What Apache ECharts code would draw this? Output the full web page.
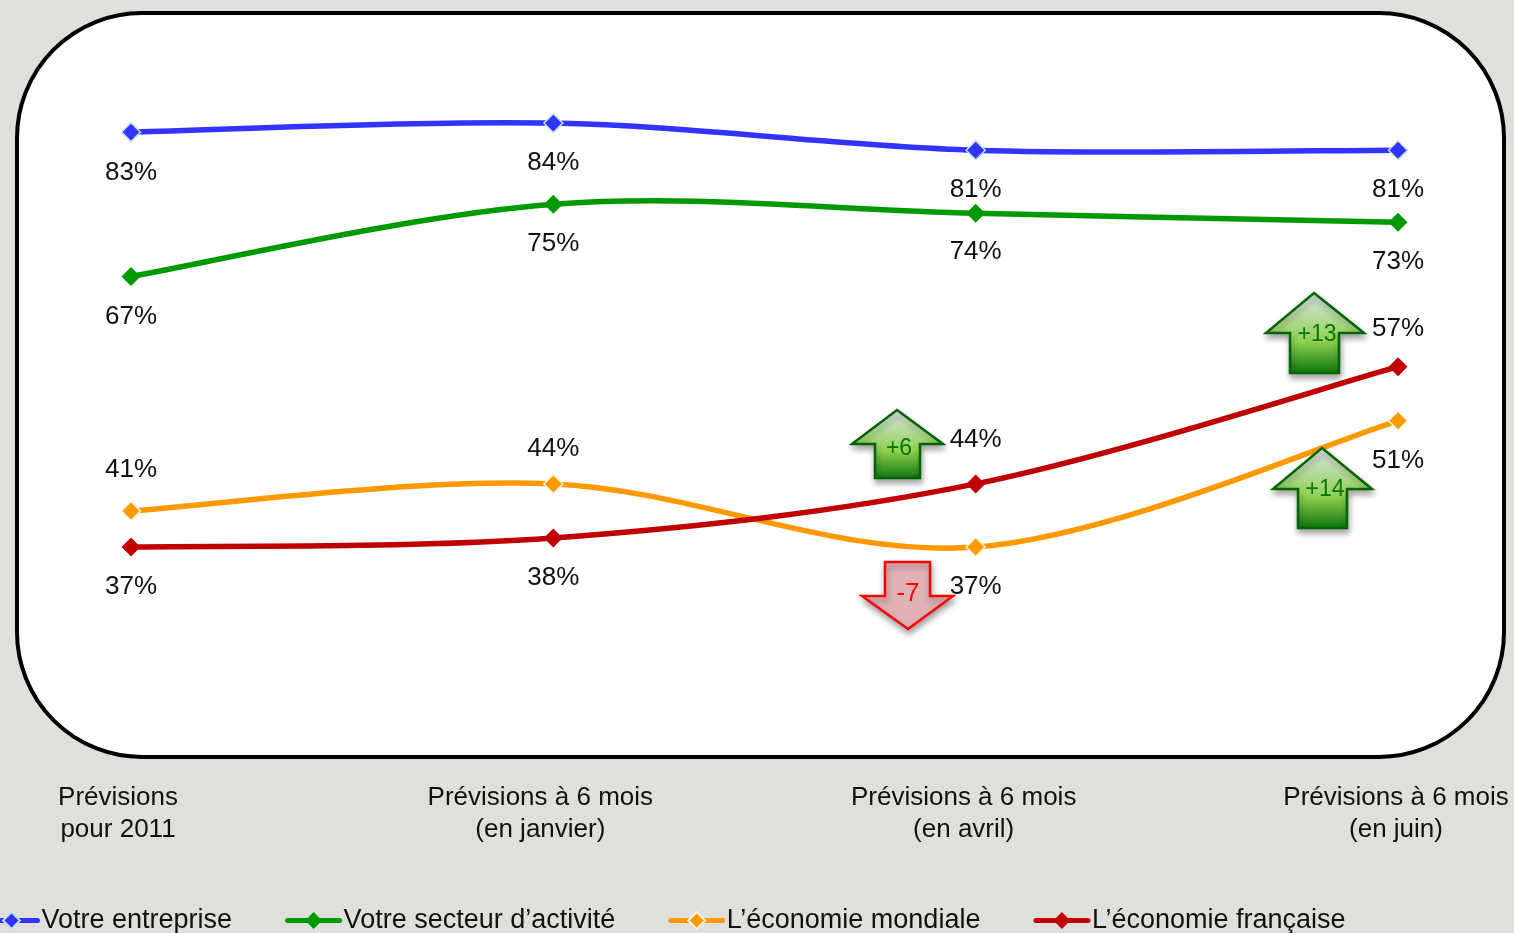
<!DOCTYPE html>
<html><head><meta charset="utf-8">
<style>html,body{margin:0;padding:0;background:#DFE0DB;overflow:hidden}#c{width:1514px;height:933px}</style>
<script src="https://cdn.jsdelivr.net/npm/echarts@6/dist/echarts.min.js"></script>
</head><body><div id="c"></div>
<script>
const categories = ['Prévisions\npour 2011','Prévisions à 6 mois\n(en janvier)','Prévisions à 6 mois\n(en avril)','Prévisions à 6 mois\n(en juin)'];
const entreprise = [83,84,81,81];
const secteur = [67,75,74,73];
const mondiale = [41,44,37,51];
const francaise = [37,38,44,57];
const names = ['Votre entreprise','Votre secteur d’activité','L’économie mondiale','L’économie française'];

const FONT = '"Liberation Sans", Arial, sans-serif';
const labelShift = [26,26,24,4];
const rich = {};
labelShift.forEach((p,i)=>{ rich['c'+i] = {fontFamily:FONT,fontSize:26,color:'#111',lineHeight:32,padding:[0,p,0,0]}; });

// Curve through the values, spreadsheet-style smoothing (may overshoot between points)
function curve(data,color){
  return {
    type:'custom',name:'curve',coordinateSystem:'cartesian2d',data:[0],silent:true,z:2,
    renderItem:(params,api)=>{
      const p = data.map((v,i)=>api.coord([i,v]));
      let d = `M${p[0][0]} ${p[0][1]}`;
      for(let i=0;i<p.length-1;i++){
        const a = p[Math.max(i-1,0)], b = p[i], c = p[i+1], e = p[Math.min(i+2,p.length-1)];
        d += `C${b[0]+(c[0]-a[0])/6} ${b[1]+(c[1]-a[1])/6} ${c[0]-(e[0]-b[0])/6} ${c[1]-(e[1]-b[1])/6} ${c[0]} ${c[1]}`;
      }
      return {type:'path',shape:{pathData:d},style:{fill:'none',stroke:color,lineWidth:5.5,lineCap:'round',lineJoin:'round'}};
    }
  };
}
function mk(name,data,color,border,dy){
  return {
    name,type:'line',data,symbol:'diamond',symbolSize:19,
    lineStyle:{color,width:5,opacity:0},
    itemStyle:{color,borderColor:border||color,borderWidth:border?1.5:0},
    label:{show:true,position:'inside',formatter:'{c}%',fontFamily:FONT,fontSize:26,color:'#111'},
    labelLayout:(p)=>({dy:dy[p.dataIndex]}),
    emphasis:{disabled:true},z:3
  };
}
function arrow(pts,tx,ty,txt,up){
  const fill = up
    ? {type:'linear',x:0,y:0,x2:0,y2:1,colorStops:[{offset:0,color:'#E0E4EC'},{offset:0.6,color:'#8FD14F'},{offset:1,color:'#0B730B'}]}
    : '#E0B2B6';
  return [{
    type:'polygon',z:10,shape:{points:pts},
    style:{fill,stroke:up?'#006400':'#FF0000',lineWidth:2.5,shadowBlur:6,shadowOffsetX:1,shadowOffsetY:4,shadowColor:'rgba(0,0,0,0.35)'}
  },{
    type:'text',z:11,x:tx,y:ty,
    style:{text:txt,fontFamily:FONT,fontSize:up?23:26,fill:up?'#0B730B':'#FF0000',align:'center',verticalAlign:'middle'}
  }];
}
const chart = echarts.init(document.getElementById('c'),null,{renderer:'canvas'});
chart.setOption({
  animation:false,
  backgroundColor:'#DFE0DB',
  grid:{left:131,width:1267,top:69,height:631.4,containLabel:false,outerBoundsMode:'none'},
  xAxis:{type:'category',data:categories,boundaryGap:false,
    axisLine:{show:false},axisTick:{show:false},splitLine:{show:false},
    axisLabel:{interval:0,margin:81,hideOverlap:false,showMinLabel:true,showMaxLabel:true,
      formatter:(v,i)=>v.split('\n').map(l=>`{c${i}|${l}}`).join('\n'),rich}},
  yAxis:{type:'value',min:20,max:90,show:false},
  legend:{left:-17,top:907,width:1700,padding:0,itemWidth:52,itemHeight:21,itemGap:53,align:'left',orient:'horizontal',symbolSize:19,
    lineStyle:{opacity:1,width:5,cap:'round'},
    textStyle:{fontFamily:FONT,fontSize:27,color:'#111',padding:[0,0,0,-1]},
    data:names},
  tooltip:{show:false},
  graphic:{elements:[
    {type:'rect',z:-1,silent:true,shape:{x:17,y:13,width:1487,height:744,r:125},style:{fill:'#fff',stroke:'#000',lineWidth:4}},
    ...arrow([[897,410],[943,444],[920,444],[920,478],[875,478],[875,444],[852,444]],899,449,'+6',true),
    ...arrow([[885,562],[930,562],[930,596],[953,596],[908,629],[862,596],[885,596]],908,594,'-7',false),
    ...arrow([[1314,293],[1364,333],[1339,333],[1339,373],[1290,373],[1290,333],[1266,333]],1317,335,'+13',true),
    ...arrow([[1322,448],[1372,489],[1347,489],[1347,528],[1298,528],[1298,489],[1273,489]],1325,490,'+14',true)
  ]},
  series:[
    curve(entreprise,'#3333FF'),curve(secteur,'#009900'),curve(mondiale,'#FF9900'),curve(francaise,'#C00000'),
    mk(names[0],entreprise,'#3333FF','#BFE3EA',[41,40,40,40]),
    mk(names[1],secteur,'#009900',null,[40,40,39,39]),
    mk(names[2],mondiale,'#FF9900','#FFF3DC',[-41,-35,40,40]),
    mk(names[3],francaise,'#C00000',null,[40,40,-44,-38])
  ]
});
</script></body></html>
